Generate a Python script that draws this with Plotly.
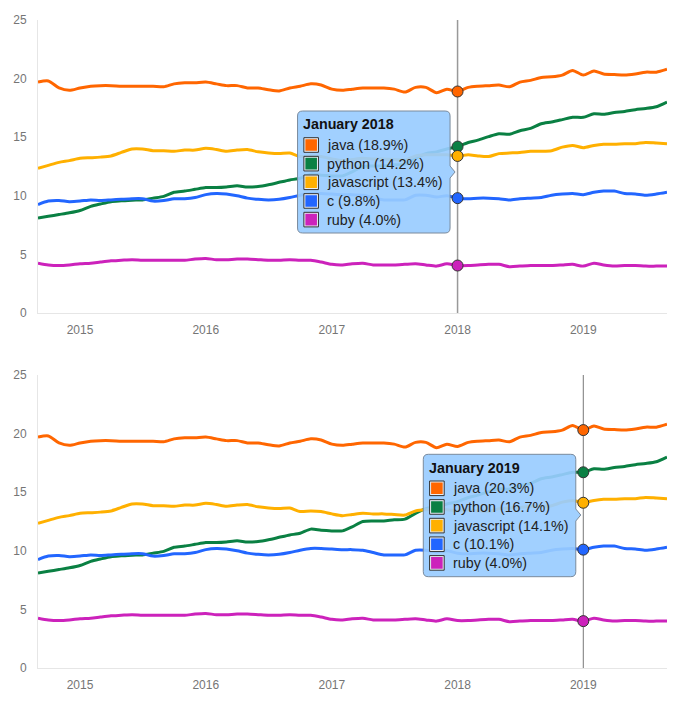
import pandas as pd
import plotly.graph_objects as go

months = pd.date_range("2014-09-01", "2019-09-01", freq="MS")
names = ["java", "python", "javascript", "c", "ruby"]
colors = ["#ff6600", "#0a8043", "#ffb000", "#2266ff", "#cc22bb"]
java = [19.7,19.8,19.2,19.0,19.2,19.35,19.4,19.4,19.35,19.35,19.35,19.35,19.3,19.55,19.65,19.65,
        19.7,19.55,19.4,19.4,19.2,19.2,19.05,18.95,19.2,19.35,19.55,19.45,19.1,19.0,19.1,19.2,
        19.2,19.2,19.1,18.85,19.25,19.25,18.8,19.1,18.9,19.25,19.35,19.4,19.45,19.3,19.7,19.85,
        20.1,20.15,20.3,20.7,20.3,20.65,20.4,20.35,20.3,20.4,20.55,20.55,20.8]
python = [8.1,8.25,8.4,8.55,8.75,9.1,9.3,9.5,9.57,9.63,9.65,9.8,9.95,10.3,10.4,10.55,
          10.7,10.7,10.75,10.85,10.75,10.8,10.95,11.15,11.35,11.5,11.85,11.75,11.7,11.7,12.05,12.5,
          12.55,12.55,12.65,12.7,13.2,13.6,13.75,14.0,14.2,14.55,14.75,15.05,15.3,15.25,15.55,15.75,
          16.15,16.3,16.5,16.7,16.7,17.0,16.95,17.1,17.2,17.35,17.45,17.6,18.0]
javascript = [12.35,12.6,12.85,13.0,13.2,13.25,13.3,13.4,13.7,14.0,14.0,13.85,13.85,13.8,13.9,13.9,
              14.05,13.95,13.8,13.9,13.95,13.75,13.65,13.6,13.65,13.35,13.4,13.35,13.15,13.0,13.1,13.2,
              13.15,13.15,13.1,13.05,13.4,13.5,13.5,13.5,13.4,13.5,13.4,13.35,13.6,13.65,13.7,13.8,
              13.8,13.85,14.15,14.3,14.1,14.3,14.4,14.4,14.45,14.45,14.55,14.5,14.45]
c = [9.25,9.55,9.6,9.5,9.55,9.65,9.6,9.65,9.7,9.75,9.75,9.55,9.6,9.75,9.75,9.85,
     10.1,10.2,10.15,10.0,9.8,9.7,9.65,9.7,9.85,10.05,10.2,10.2,10.15,10.1,10.1,10.05,
     9.85,9.65,9.65,9.65,10.05,10.05,9.9,10.0,9.8,9.75,9.8,9.8,9.75,9.65,9.75,9.8,
     9.85,10.05,10.15,10.2,10.1,10.3,10.4,10.4,10.2,10.15,10.05,10.15,10.3]
ruby = [4.25,4.1,4.05,4.1,4.2,4.25,4.35,4.45,4.5,4.55,4.5,4.5,4.5,4.5,4.5,4.6,
        4.65,4.55,4.55,4.6,4.6,4.55,4.5,4.5,4.55,4.5,4.5,4.35,4.15,4.1,4.2,4.25,
        4.1,4.1,4.1,4.15,4.2,4.1,4.0,4.2,4.05,4.05,4.1,4.15,4.15,3.95,4.0,4.05,
        4.05,4.05,4.1,4.15,4.0,4.25,4.1,4.0,4.05,4.05,4.0,4.0,4.0]
series = [java, python, javascript, c, ruby]
y_ticks = [0, 5, 10, 15, 20, 25]
x_ticks = ["2015-01-01", "2016-01-01", "2017-01-01", "2018-01-01", "2019-01-01"]
x_labels = ["2015", "2016", "2017", "2018", "2019"]
focus = ["2018-01-01", "2019-01-01"]
focus_titles = ["January 2018", "January 2019"]

W, H = 680, 707
fig = go.Figure()
panels = [("", "", 313, 20, 141, 202, 80, "#999999", 1.5), ("2", "2", 668, 375, 153, 213.7, 91.3, "#777777", 1)]
FONT = "Liberation Sans, Arial, sans-serif"
shapes, annos = [], []

def box_path(l, r, t, b, rad=4, tip=None):
    s = f"M {l+rad} {t} L {r-rad} {t} Q {r} {t} {r} {t-rad} "
    if tip is not None:
        s += f"L {r} {tip+6} L {r+5} {tip} L {r} {tip-6} "
    s += f"L {r} {b+rad} Q {r} {b} {r-rad} {b} L {l+rad} {b} Q {l} {b} {l} {b+rad} L {l} {t-rad} Q {l} {t} {l+rad} {t} Z"
    return s

for p, (xs, ys, y0px, y1px, tip, top, bot, hair, hair_w) in enumerate(panels):
    xa, ya = "x" + xs, "y" + ys
    for name, col, vals in zip(names, colors, series):
        fig.add_trace(go.Scatter(x=months, y=vals, mode="lines", name=name, xaxis=xa, yaxis=ya,
                                 line=dict(color=col, width=3, shape="spline", smoothing=0.7),
                                 showlegend=False, hoverinfo="skip"))
    fig.add_trace(go.Scatter(x=[focus[p], focus[p]], y=[y_ticks[0], y_ticks[-1]], mode="lines", xaxis=xa, yaxis=ya,
                             line=dict(color=hair, width=hair_w), showlegend=False, hoverinfo="skip"))
    idx = list(months).index(pd.Timestamp(focus[p]))
    fig.add_trace(go.Scatter(x=[focus[p]] * 5, y=[v[idx] for v in series], mode="markers", xaxis=xa, yaxis=ya,
                             marker=dict(size=11, color=colors, line=dict(color="#333333", width=1)),
                             showlegend=False, hoverinfo="skip"))
    common = dict(xref=xa, yref=ya, xsizemode="pixel", ysizemode="pixel", xanchor=focus[p], yanchor=0, layer="above")
    shapes.append(dict(type="path", path=box_path(-160, -7.5, top, bot, 5, tip),
                       fillcolor="rgba(153,204,255,0.92)", line=dict(color="#7a8a9c", width=1), **common))
    annos.append(dict(x=focus[p], y=0, xref=xa, yref=ya, xanchor="left", yanchor="middle", showarrow=False,
                      xshift=-156.5, yshift=top - 13.3, text=f"<b>{focus_titles[p]}</b>",
                      font=dict(family=FONT, size=14.3, color="#111111")))
    for i, (name, col, vals) in enumerate(zip(names, colors, series)):
        cy = top - 34 - 18.65 * i
        shapes.append(dict(type="path", path=box_path(-153.7, -139.1, cy + 7.3, cy - 7.3, 0),
                           fillcolor="#e8eef5", line=dict(color="#333333", width=1), **common))
        shapes.append(dict(type="path", path=box_path(-152.2, -140.6, cy + 5.8, cy - 5.8, 0),
                           fillcolor=col, line=dict(width=0), **common))
        annos.append(dict(x=focus[p], y=0, xref=xa, yref=ya, xanchor="left", yanchor="middle", showarrow=False,
                          xshift=-132.7, yshift=cy, text=f"{name} ({vals[idx]:.1f}%)",
                          font=dict(family=FONT, size=14.3, color="#222222")))
    axx = dict(domain=[38 / W, 667 / W], range=[months[0], months[-1]], type="date", tickmode="array",
               tickvals=x_ticks, ticktext=x_labels, showgrid=False, zeroline=False, showline=True,
               linecolor="#e6e6e6", linewidth=1, ticks="", ticklabelstandoff=6, automargin=False,
               tickfont=dict(family=FONT, size=12, color="#757575"), anchor=ya)
    axy = dict(domain=[(H - y0px) / H, (H - y1px) / H], range=[0, 25], tickmode="array", tickvals=y_ticks,
               showgrid=False, zeroline=False, showline=True, linecolor="#e6e6e6", linewidth=1, ticks="",
               ticklabelstandoff=8, automargin=False, tickfont=dict(family=FONT, size=12, color="#757575"), anchor=xa)
    fig.update_layout({"xaxis" + xs: axx, "yaxis" + ys: axy})

fig.update_layout(width=W, height=H, margin=dict(l=0, r=0, t=0, b=0, pad=0, autoexpand=False), paper_bgcolor="white",
                  plot_bgcolor="white", shapes=shapes, annotations=annos, showlegend=False)
fig.write_html("out.html", config={"displayModeBar": False},
               post_script="document.body.style.margin='0';")
